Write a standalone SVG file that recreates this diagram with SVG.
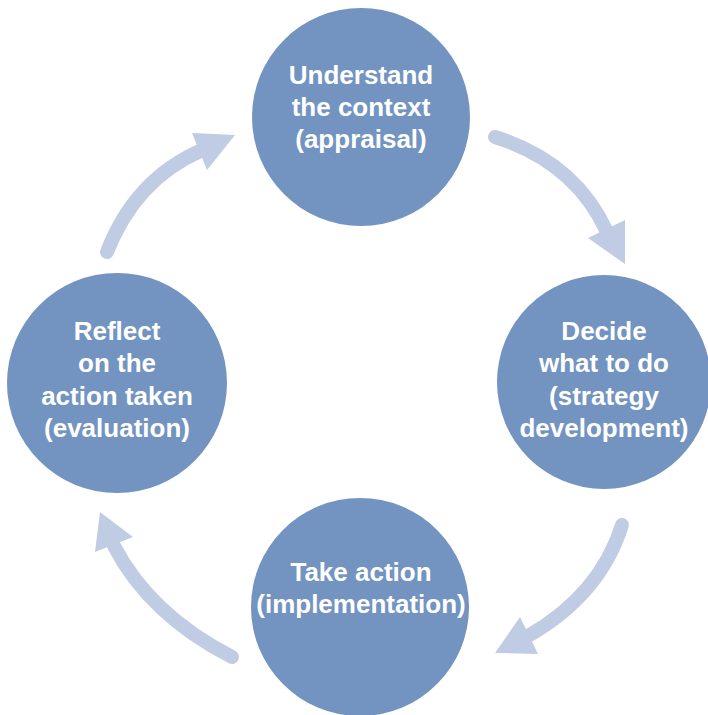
<svg xmlns="http://www.w3.org/2000/svg" width="708" height="715" viewBox="0 0 708 715">
<style>
.node{fill:#7393C1;}
.lbl{font-family:"Liberation Sans",Arial,sans-serif;font-weight:bold;font-size:26px;fill:#FFFFFF;text-anchor:middle;}
.shaft{fill:none;stroke:#C0CCE3;stroke-width:14;stroke-linecap:round;}
.head{fill:#C0CCE3;}
</style>
<rect width="708" height="715" fill="#FFFFFF"/>
<g id="connectors">
<path class="shaft" d="M495,137 Q575,162 607,232"/>
<polygon class="head" points="588,238 625,220 625,264"/>
<path class="shaft" d="M622,525 Q600,595 528,636"/>
<polygon class="head" points="520,617 538,654 495,653"/>
<path class="shaft" d="M232,657 Q150,615 114,546"/>
<polygon class="head" points="95,552 133,537 100,512"/>
<path class="shaft" d="M107,252 Q135,180 200,151"/>
<polygon class="head" points="192,133 207,170 235,135"/>
</g>
<g id="node-understand">
<circle class="node" cx="361" cy="117" r="109"/>
<text class="lbl"><tspan x="361" y="84">Understand</tspan><tspan x="361" y="116">the context</tspan><tspan x="361" y="148">(appraisal)</tspan></text>
</g>
<g id="node-decide">
<circle class="node" cx="604" cy="382" r="107"/>
<text class="lbl"><tspan x="604" y="340">Decide</tspan><tspan x="604" y="372">what to do</tspan><tspan x="604" y="405">(strategy</tspan><tspan x="604" y="437">development)</tspan></text>
</g>
<g id="node-take">
<circle class="node" cx="360" cy="607" r="109"/>
<text class="lbl"><tspan x="361" y="581">Take action</tspan><tspan x="361" y="613">(implementation)</tspan></text>
</g>
<g id="node-reflect">
<circle class="node" cx="117" cy="383" r="110"/>
<text class="lbl"><tspan x="117" y="340">Reflect</tspan><tspan x="117" y="372">on the</tspan><tspan x="117" y="405">action taken</tspan><tspan x="117" y="437">(evaluation)</tspan></text>
</g>
</svg>
